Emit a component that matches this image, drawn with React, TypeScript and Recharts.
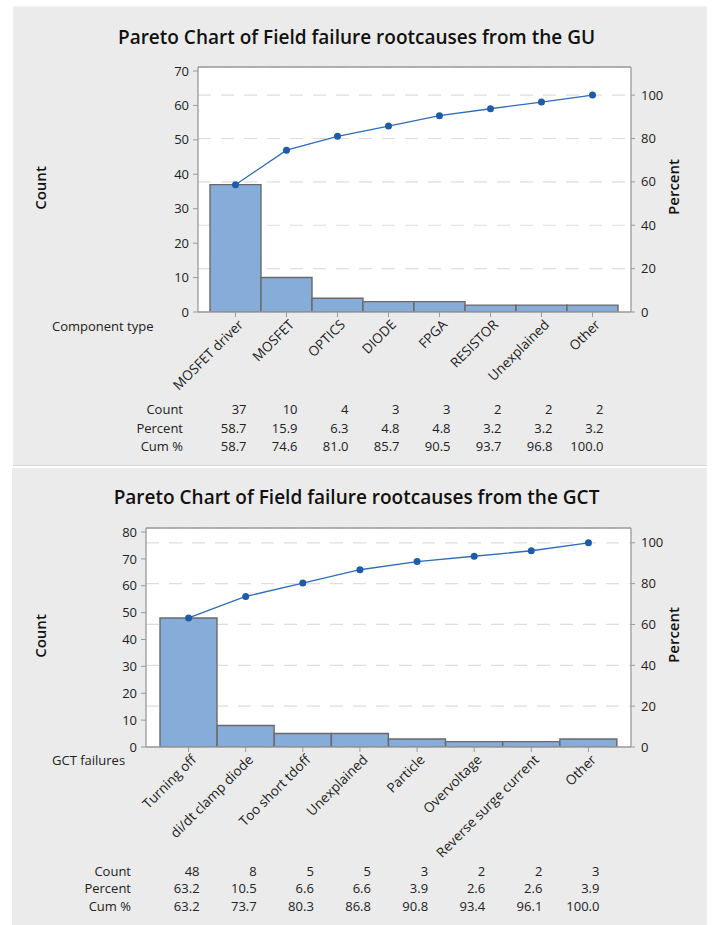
import {
  ComposedChart,
  Bar,
  Line,
  XAxis,
  YAxis,
  CartesianGrid,
  ReferenceLine,
} from 'recharts'

const guCategories = ['MOSFET driver', 'MOSFET', 'OPTICS', 'DIODE', 'FPGA', 'RESISTOR', 'Unexplained', 'Other']
const guCounts = [37, 10, 4, 3, 3, 2, 2, 2]
const guPercent = [58.7, 15.9, 6.3, 4.8, 4.8, 3.2, 3.2, 3.2]
const guCumPercent = [58.7, 74.6, 81.0, 85.7, 90.5, 93.7, 96.8, 100.0]

const gctCategories = [
  'Turning off',
  'di/dt clamp diode',
  'Too short tdoff',
  'Unexplained',
  'Particle',
  'Overvoltage',
  'Reverse surge current',
  'Other',
]
const gctCounts = [48, 8, 5, 5, 3, 2, 2, 3]
const gctPercent = [63.2, 10.5, 6.6, 6.6, 3.9, 2.6, 2.6, 3.9]
const gctCumPercent = [63.2, 73.7, 80.3, 86.8, 90.8, 93.4, 96.1, 100.0]

const guCountTicks = [0, 10, 20, 30, 40, 50, 60, 70]
const gctCountTicks = [0, 10, 20, 30, 40, 50, 60, 70, 80]
const percentTicks = [0, 20, 40, 60, 80, 100]
const rowNames = ['Count', 'Percent', 'Cum %']

const W = 713
const FONT = '"Open Sans", "Noto Sans", sans-serif'
const AXIS = '#9a9a9a'
const TEXT = '#222'

interface PanelProps {
  top: number
  height: number
  title: string
  titleY: number
  factor: string
  categories: string[]
  counts: number[]
  percents: number[]
  cums: number[]
  countTicks: number[]
  countMax: number
  plot: { left: number; right: number; top: number; bottom: number }
  pad: { left: number; right: number }
  rowY: number[]
  factorY: number
}

function ParetoPanel(p: PanelProps) {
  const total = p.counts.reduce((a, b) => a + b, 0)
  const pctMax = (p.countMax / total) * 100
  const data = p.categories.map((name, i) => ({
    name,
    count: p.counts[i],
    cum: p.cums[i],
  }))
  const yW = 60
  const rW = 50
  const xH = 30

  // category label + the three table cells under it
  const renderTick = (props: any) => {
    const { x, y, payload } = props
    const i = payload.index
    return (
      <g fontFamily={FONT}>
        <text
          transform={`translate(${x + 5},${y + 3}) rotate(-45)`}
          textAnchor="end"
          dominantBaseline="central"
          fontSize={13.5}
          fill={TEXT}
        >
          {payload.value}
        </text>
        {[p.counts[i].toString(), p.percents[i].toFixed(1), p.cums[i].toFixed(1)].map((v, k) => (
          <text
            key={k}
            x={x + 11}
            y={p.rowY[k]}
            textAnchor="end"
            dominantBaseline="central"
            fontSize={13}
            fill={TEXT}
          >
            {v}
          </text>
        ))}
        {i === 0 && (
          <g>
            {rowNames.map((r, k) => (
              <text
                key={r}
                x={p.plot.left - 15}
                y={p.rowY[k]}
                textAnchor="end"
                dominantBaseline="central"
                fontSize={13}
                fill={TEXT}
              >
                {r}
              </text>
            ))}
            <text x={52} y={p.factorY} dominantBaseline="central" fontSize={13} fill={TEXT}>
              {p.factor}
            </text>
          </g>
        )}
      </g>
    )
  }

  return (
    <div style={{ position: 'absolute', left: 0, top: p.top, width: W, height: p.height }}>
      <div
        style={{
          position: 'absolute',
          left: 0,
          width: W,
          top: p.titleY - 14,
          textAlign: 'center',
          fontSize: 19,
          fontWeight: 600,
          lineHeight: '28px',
          color: '#111',
        }}
      >
        {p.title}
      </div>
      <div
        style={{
          position: 'absolute',
          left: 40,
          top: (p.plot.top + p.plot.bottom) / 2 - 2,
          transform: 'translate(-50%,-50%) rotate(-90deg)',
          fontSize: 15,
          fontWeight: 600,
          color: '#111',
          whiteSpace: 'nowrap',
        }}
      >
        Count
      </div>
      <div
        style={{
          position: 'absolute',
          left: 673,
          top: (p.plot.top + p.plot.bottom) / 2 - 3,
          transform: 'translate(-50%,-50%) rotate(-90deg)',
          fontSize: 15,
          fontWeight: 600,
          color: '#111',
          whiteSpace: 'nowrap',
        }}
      >
        Percent
      </div>
      <ComposedChart
        width={W}
        height={p.height}
        data={data}
        barCategoryGap={0}
        margin={{
          top: p.plot.top,
          left: p.plot.left - yW,
          right: W - p.plot.right - rW,
          bottom: p.height - p.plot.bottom - xH,
        }}
        style={{ position: 'absolute', left: 0, top: 0 }}
      >
        <CartesianGrid
          yAxisId="pct"
          vertical={false}
          horizontal
          fill="#ffffff"
          stroke="#dedede"
          strokeDasharray="13 10"
          strokeWidth={1.2}
        />
        <XAxis
          dataKey="name"
          height={xH}
          interval={0}
          padding={p.pad}
          tickSize={5}
          tickLine={{ stroke: AXIS }}
          axisLine={{ stroke: AXIS, strokeWidth: 1.3 }}
          tick={renderTick}
        />
        <YAxis
          yAxisId="cnt"
          width={yW}
          type="number"
          domain={[0, p.countMax]}
          allowDataOverflow
          ticks={p.countTicks}
          tickSize={5}
          tickMargin={4}
          tickLine={{ stroke: AXIS }}
          axisLine={{ stroke: AXIS, strokeWidth: 1.3 }}
          tick={{ fontSize: 13, fill: TEXT, fontFamily: FONT }}
        />
        <YAxis
          yAxisId="pct"
          orientation="right"
          width={rW}
          type="number"
          domain={[0, pctMax]}
          allowDataOverflow
          ticks={percentTicks}
          tickSize={4}
          tickMargin={6}
          tickLine={{ stroke: AXIS }}
          axisLine={{ stroke: AXIS, strokeWidth: 1.3 }}
          tick={{ fontSize: 13, fill: TEXT, fontFamily: FONT }}
        />
        <ReferenceLine yAxisId="cnt" y={p.countMax} stroke={AXIS} strokeWidth={1.3} />
        <Bar
          yAxisId="cnt"
          dataKey="count"
          fill="#86acd9"
          stroke="#6a6a6a"
          strokeWidth={1.4}
          isAnimationActive={false}
        />
        <Line
          yAxisId="pct"
          dataKey="cum"
          type="linear"
          stroke="#2e6db9"
          strokeWidth={1.3}
          dot={{ r: 3.5, fill: '#1d5ca9', stroke: 'none' }}
          isAnimationActive={false}
        />
      </ComposedChart>
    </div>
  )
}

export default function App() {
  return (
    <div
      style={{
        position: 'absolute',
        left: 0,
        top: 0,
        width: W,
        height: 925,
        background: '#ffffff',
        fontFamily: FONT,
        overflow: 'hidden',
      }}
    >
      <div
        style={{
          position: 'absolute',
          left: 13,
          top: 6,
          width: 694,
          height: 460,
          background: '#ebebeb',
          borderTop: '1px solid #f4f4f4',
          borderBottom: '1px solid #d6d6d6',
          boxSizing: 'border-box',
        }}
      />
      <div
        style={{
          position: 'absolute',
          left: 12,
          top: 468,
          width: 695,
          height: 457,
          background: '#ebebeb',
        }}
      />
      <ParetoPanel
        top={0}
        height={466}
        title="Pareto Chart of Field failure rootcauses from the GU"
        titleY={37}
        factor="Component type"
        categories={guCategories}
        counts={guCounts}
        percents={guPercent}
        cums={guCumPercent}
        countTicks={guCountTicks}
        countMax={71.16}
        plot={{ left: 198, right: 631, top: 67, bottom: 312 }}
        pad={{ left: 12, right: 13 }}
        rowY={[409, 428, 446]}
        factorY={326}
      />
      <ParetoPanel
        top={468}
        height={457}
        title="Pareto Chart of Field failure rootcauses from the GCT"
        titleY={29}
        factor="GCT failures"
        categories={gctCategories}
        counts={gctCounts}
        percents={gctPercent}
        cums={gctCumPercent}
        countTicks={gctCountTicks}
        countMax={81.5}
        plot={{ left: 146, right: 631, top: 60, bottom: 279 }}
        pad={{ left: 14, right: 14 }}
        rowY={[403, 420, 438]}
        factorY={292}
      />
    </div>
  )
}
